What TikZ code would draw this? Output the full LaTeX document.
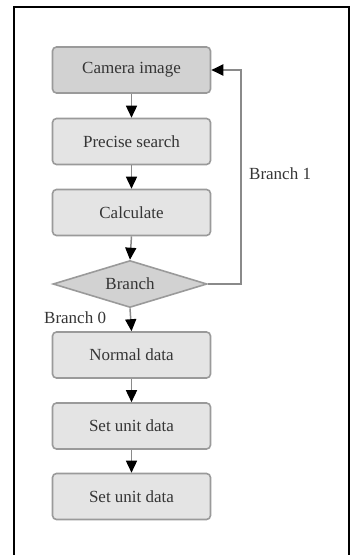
\documentclass[tikz,border=0pt]{standalone}
\usepackage{fontspec}
\setmainfont{Liberation Serif}
\usetikzlibrary{arrows.meta,shapes.geometric}
\definecolor{boxline}{HTML}{9A9A9A}
\definecolor{boxfill}{HTML}{E4E4E4}
\definecolor{darkfill}{HTML}{D2D2D2}
\definecolor{txt}{HTML}{353535}
\definecolor{conn}{HTML}{8A8A8A}
\begin{document}
\begin{tikzpicture}[x=1pt,y=-1pt,
  box/.style={draw=boxline, line width=1.6pt, rounded corners=4pt, fill=boxfill,
    minimum width=158pt, minimum height=46pt, inner sep=0pt,
    font=\fontsize{17}{19}\selectfont, text=txt},
  darkbox/.style={box, fill=darkfill},
  decision/.style={diamond, draw=boxline, line width=1.6pt, fill=darkfill,
    aspect=3.3, minimum width=154pt, minimum height=47pt, inner sep=0pt,
    font=\fontsize{17}{19}\selectfont, text=txt},
  flow/.style={draw=conn, line width=1.5pt,
    -{Triangle[width=11pt,length=12pt,color=black]}},
  loopline/.style={draw=conn, line width=2pt,
    -{Triangle[width=11pt,length=12pt,color=black]}},
  lbl/.style={font=\fontsize{17}{19}\selectfont, text=txt, inner sep=0pt}]
\useasboundingbox (0,0) rectangle (355,555);
\fill[white] (0,0) rectangle (355,555);
\draw[line width=2.5pt] (14,556) -- (14,7) -- (349,7) -- (349,556);

\node[darkbox] (cam) at (131.5,70) {Camera image};
\node[box] (ps) at (131.5,141.5) {Precise search};
\node[box] (calc) at (131.5,212.5) {Calculate};
\node[decision] (br) at (130,284) {Branch};
\node[box] (nd) at (131.5,355) {Normal data};
\node[box] (su1) at (131.5,426) {Set unit data};
\node[box] (su2) at (131.5,496.5) {Set unit data};

\coordinate (lx) at (241,0);

\draw[flow] (cam.south) -- (ps.north);
\draw[flow] (ps.south) -- (calc.north);
\draw[flow] (calc.south) -- (br.north);
\draw[flow] (br.south) -- (nd.north);
\draw[flow] (nd.south) -- (su1.north);
\draw[flow] (su1.south) -- (su2.north);
\draw[loopline] (br.east) -- (br.east -| lx) -- (cam.east -| lx) -- (cam.east);

\node[lbl, anchor=west] (b1) at (249,174) {Branch 1};
\node[lbl, anchor=west] (b0) at (44,318) {Branch 0};
\end{tikzpicture}
\end{document}
